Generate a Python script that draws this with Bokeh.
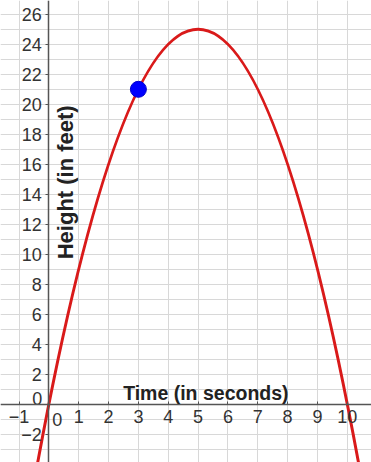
from bokeh.plotting import figure
from bokeh.models import LinearAxis, FixedTicker, Range1d, Label
from bokeh.core.properties import value
from bokeh.embed import file_html
from bokeh.resources import INLINE

# ---- data ----
x_ticks = [-1, 0, 1, 2, 3, 4, 5, 6, 7, 8, 9, 10]
y_ticks = [-2, 0, 2, 4, 6, 8, 10, 12, 14, 16, 18, 20, 22, 24, 26]
grid_x = list(range(-2, 12))
grid_y = list(range(-4, 28))
# parabola: ends (below the frame) and vertex
curve_t0, curve_t1 = -0.7, 10.7
curve_h_end = -7.49
vertex_t, vertex_h = 5.0, 25.0
point_t = [3]
point_h = [21]
x_title = "Time (in seconds)"
y_title = "Height (in feet)"

FONT = "Liberation Sans"

p = figure(width=371, height=462, output_backend="svg", toolbar_location=None,
           x_range=Range1d(-1.62, 10.81), y_range=Range1d(-3.88, 26.92),
           x_axis_location=None, y_axis_location=None, min_border=0)
p.outline_line_color = None
p.background_fill_color = "white"

p.xgrid.ticker = FixedTicker(ticks=grid_x)
p.ygrid.ticker = FixedTicker(ticks=grid_y)
for g in (p.xgrid, p.ygrid):
    g.grid_line_color = "#d8d8d8"
    g.grid_line_width = 1

xa = LinearAxis(fixed_location=0, ticker=FixedTicker(ticks=x_ticks))
xa.major_label_overrides = {0: ""}
ya = LinearAxis(fixed_location=0, ticker=FixedTicker(ticks=y_ticks))
ya.major_label_overrides = {0: ""}
for a in (xa, ya):
    a.axis_line_color = "#555555"
    a.axis_line_width = 1.5
    a.major_tick_line_color = "#555555"
    a.minor_tick_line_color = None
    a.major_label_text_font = FONT
    a.major_label_text_font_size = "18px"
    a.major_label_text_color = "#333333"
xa.major_tick_in = 3
xa.major_tick_out = 0
xa.major_label_standoff = 6
ya.major_tick_in = 0
ya.major_tick_out = 3
ya.major_label_standoff = 4
p.add_layout(xa, "below")
p.add_layout(ya, "left")

# zero labels offset from origin
p.text(x=[0.28], y=[-1.01], text=["0"], text_font=value(FONT), text_font_size="18px",
       text_color="#333333", text_align="center", text_baseline="middle")
p.text(x=[-0.39], y=[0.42], text=["0"], text_font=value(FONT), text_font_size="18px",
       text_color="#333333", text_align="center", text_baseline="middle")

# parabola as quadratic Bezier
cx = (curve_t0 + curve_t1) / 2
cy = 2 * vertex_h - curve_h_end
p.quadratic(x0=[curve_t0], y0=[curve_h_end], x1=[curve_t1], y1=[curve_h_end],
            cx=[cx], cy=[cy], line_color="#d91a1a", line_width=3)

p.scatter(x=point_t, y=point_h, size=16, fill_color="#0000ff", line_color="#0000cc",
          line_width=1)

p.add_layout(Label(x=5.26, y=0.78, text=x_title, text_font=FONT, text_font_size="19.5px",
                   text_font_style="bold", text_color="#222222",
                   text_align="center", text_baseline="middle"))
p.add_layout(Label(x=0.57, y=14.8, text=y_title, text_font=FONT, text_font_size="22px",
                   text_font_style="bold", text_color="#222222", angle=1.5708,
                   text_align="center", text_baseline="middle"))

open("out.html", "w").write(file_html(p, INLINE))
